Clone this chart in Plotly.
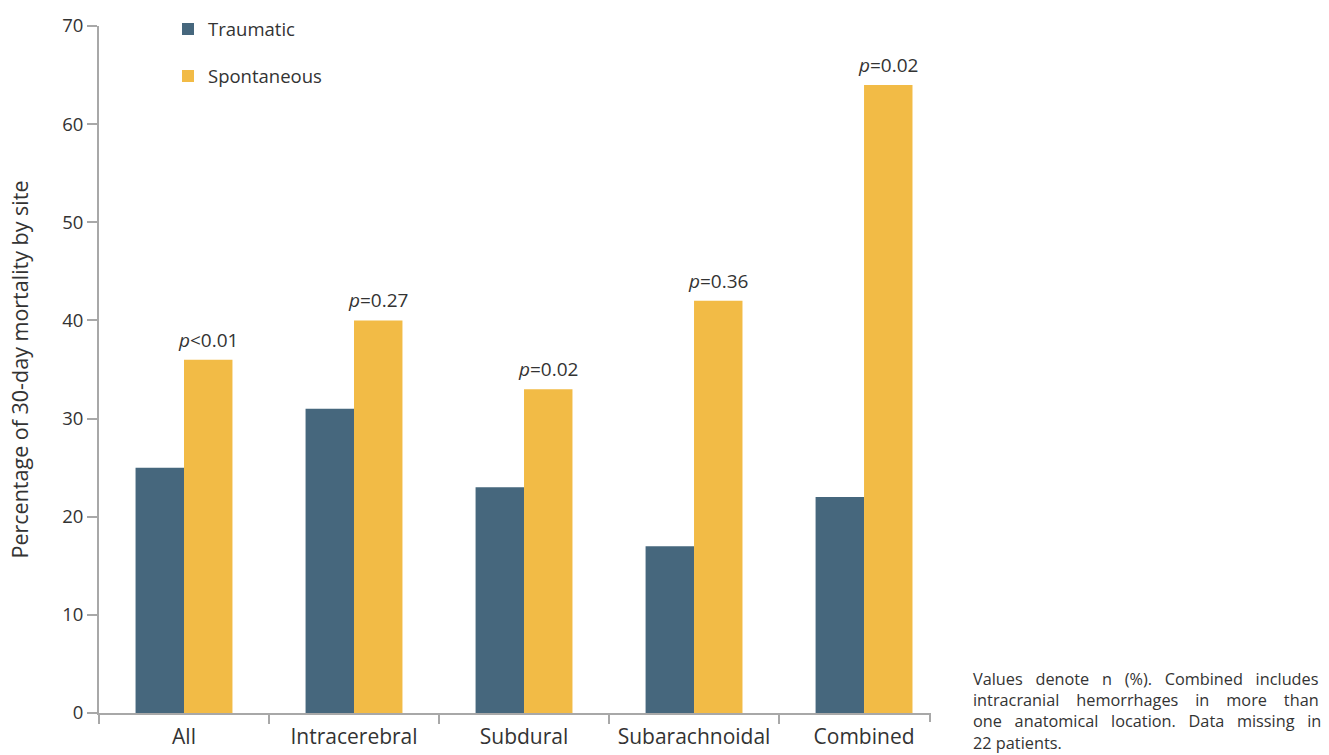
import plotly.graph_objects as go

categories = ["All", "Intracerebral", "Subdural", "Subarachnoidal", "Combined"]
traumatic = [25, 31, 23, 17, 22]
spontaneous = [36, 40, 33, 42, 64]
p_labels = ["<i>p</i><0.01", "<i>p</i>=0.27", "<i>p</i>=0.02", "<i>p</i>=0.36", "<i>p</i>=0.02"]
note_lines = [
    "Values denote n (%). Combined includes",
    "intracranial hemorrhages in more than",
    "one anatomical location. Data missing in",
    "22 patients.",
]
extra_spaces = [2, 3, 2, 0]

FONT = "Open Sans"
TXT = "#333333"
AX = "#a8a8a8"

W, H = 1329, 755
L, R, T, B = 99, 1329 - 930, 26, 755 - 713
pw, ph = W - L - R, H - T - B

fig = go.Figure()
fig.add_trace(go.Bar(name="Traumatic", x=categories, y=traumatic,
                     marker=dict(color="#46677d", line=dict(width=0)), legendgroup="a"))
fig.add_trace(go.Bar(name="Spontaneous", x=categories, y=spontaneous,
                     marker=dict(color="#f2bb46", line=dict(width=0)), legendgroup="b"))

for c, v, t in zip(categories, spontaneous, p_labels):
    fig.add_annotation(x=c, y=v, text=t, showarrow=False, xref="x", yref="y",
                       xshift=24, yshift=5, yanchor="bottom",
                       font=dict(family=FONT, size=19, color=TXT))

note = "<br>".join(ln.replace(" ", " " + "\u00a0" * k) for ln, k in zip(note_lines, extra_spaces))
fig.add_annotation(x=(971 - L) / pw, y=(H - B - 666) / ph, xref="paper", yref="paper",
                   text=note, showarrow=False, xanchor="left", yanchor="top",
                   align="left", font=dict(family=FONT, size=16.3, color=TXT))

# right-end tick of x axis
fig.add_shape(type="line", xref="paper", yref="paper", x0=1, x1=1,
              y0=0, y1=-9 / ph, line=dict(color=AX, width=2))

fig.update_layout(
    width=W, height=H,
    margin=dict(l=L, r=R, t=T, b=B, autoexpand=False),
    paper_bgcolor="white", plot_bgcolor="white",
    barmode="group", bargap=0.43, bargroupgap=0,
    font=dict(family=FONT, color=TXT),
    showlegend=True,
    legend=dict(x=(168 - L) / pw, y=1.0227, xanchor="left", yanchor="top",
                bgcolor="rgba(0,0,0,0)", font=dict(family=FONT, size=18.5, color=TXT),
                traceorder="grouped", tracegroupgap=20, itemwidth=30),
    xaxis=dict(type="category", range=[-0.5, 4.388], tickson="boundaries",
               ticks="outside", ticklen=9, tickwidth=2, tickcolor=AX,
               showline=True, linecolor=AX, linewidth=2, showgrid=False,
               ticklabelstandoff=4, automargin=False,
               tickfont=dict(family=FONT, size=21, color=TXT), zeroline=False),
    yaxis=dict(range=[0, 70], tickvals=[0, 10, 20, 30, 40, 50, 60, 70],
               ticks="outside", ticklen=10, tickwidth=2, tickcolor=AX,
               showline=True, linecolor=AX, linewidth=2, showgrid=False, zeroline=False,
               automargin=False,
               tickfont=dict(family=FONT, size=18.5, color=TXT),
               title=dict(text="Percentage of 30-day mortality by site",
                          font=dict(family=FONT, size=21.5, color=TXT), standoff=28)),
)

fig.write_html("out.html")
